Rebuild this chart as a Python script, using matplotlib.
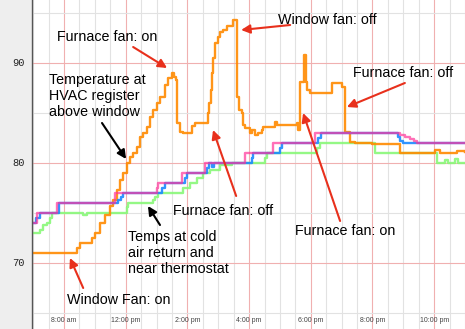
import matplotlib.pyplot as plt

# time of day in hours, temperature in F (step series)
orange_t = [8.96, 10.42, 10.52, 10.91, 11.00, 11.17, 11.33, 11.49, 11.59, 11.72, 11.82, 11.91,
            12.04, 12.14, 12.24, 12.37, 12.46, 12.56, 12.69, 12.79, 12.88, 13.01, 13.11, 13.27,
            13.37, 13.50, 13.57, 13.63, 13.66, 13.76, 13.86, 14.15, 14.25, 14.67, 14.70, 14.76,
            14.80, 14.83, 14.89, 14.99, 15.06, 15.15, 15.28, 15.48, 15.61, 15.67, 15.77, 15.80,
            15.87, 16.03, 16.09, 16.19, 16.29, 16.42, 16.45, 16.84, 16.90, 17.55, 17.58, 17.65,
            17.78, 17.84, 17.88, 17.97, 18.69, 19.01, 19.11, 19.27, 19.43, 19.98, 20.89, 22.03,
            22.19, 22.41, 22.74, 23.0]
orange_v = [71.0, 71.5, 72.0, 72.5, 73.0, 74.0, 74.8, 75.7, 76.3, 77.3, 78.3, 79.0,
            80.0, 80.6, 81.0, 81.6, 82.6, 83.0, 83.6, 84.6, 85.3, 86.0, 86.6, 87.8,
            88.5, 89.0, 88.6, 88.3, 84.0, 83.1, 83.0, 83.7, 84.0, 85.0, 86.0, 87.3,
            89.0, 90.5, 92.0, 92.6, 93.1, 93.3, 93.7, 94.3, 86.6, 85.3, 85.0, 83.8,
            83.5, 83.0, 83.3, 82.8, 83.0, 83.3, 83.6, 84.1, 83.8, 84.0, 83.3, 88.1,
            90.8, 88.1, 87.3, 87.0, 88.0, 87.6, 83.1, 82.1, 82.0, 81.9, 81.0, 81.3,
            81.0, 81.0, 81.2, 81.1]

pink_t = [8.96, 9.12, 9.77, 11.65, 13.01, 13.05, 13.82, 14.57, 15.87, 16.77, 18.14,
          20.89, 21.05, 21.22, 21.35, 21.44, 23.0]
pink_v = [74, 75, 76, 77, 77.5, 78, 79, 80, 81, 82, 83,
          82.8, 82.6, 82.4, 82.2, 82, 82]

blue_t = [8.96, 9.09, 9.22, 9.84, 11.75, 11.85, 11.91, 13.18, 13.27, 13.92, 13.99, 14.64,
          14.70, 14.80, 14.86, 16.09, 16.13, 17.00, 17.07, 18.23, 18.33, 20.83, 20.89, 20.99, 23.0]
blue_v = [74, 74.5, 75, 76, 76.3, 76.6, 77, 77.5, 78, 78.5, 79, 79.5,
          80, 79.6, 80, 80.5, 81, 81.5, 82, 82.5, 83, 82.6, 82.2, 82, 82]

green_t = [8.96, 9.22, 9.32, 9.45, 9.55, 9.61, 10.62, 10.75, 12.04, 12.07, 12.88, 12.95,
           13.05, 13.86, 14.08, 14.31, 14.51, 14.73, 15.06, 15.45, 16.52, 16.58, 18.20,
           18.30, 20.08, 22.09, 22.35, 22.45, 22.67, 22.77, 23.0]
green_v = [73.0, 73.3, 73.8, 74.0, 74.5, 75.0, 74.8, 75.0, 75.6, 76.0, 76.3, 76.6,
           77.0, 77.5, 78.0, 78.5, 79.0, 79.3, 79.8, 80.0, 80.5, 81.0, 81.5,
           82.0, 81.0, 80.0, 80.3, 80.0, 80.4, 80.0, 80.0]

tick_hours = [10, 12, 14, 16, 18, 20, 22]
tick_labels = ["8:00 am", "12:00 pm", "2:00 pm", "4:00 pm", "6:00 pm", "8:00 pm", "10:00 pm"]
y_labels = [70, 80, 90]

fig = plt.figure(figsize=(4.65, 3.29), dpi=100, facecolor="#eeeeee")
ax = fig.add_axes([32 / 465, 0, 433 / 465, 1])
ax.set_facecolor("white")
ax.set_xlim(8.96, 23.0)
ax.set_ylim(63.4, 96.3)

# grid: red every 2 h / 10 degrees, grey in between
for h in range(18, 47):
    hh = h / 2
    ax.axvline(hh, color="#f0b0b0" if hh in tick_hours else "#e2e2e2", lw=0.8, zorder=0)
for v in range(65, 100, 5):
    ax.axhline(v, color="#f0b0b0" if v % 10 == 0 else "#e2e2e2", lw=0.8, zorder=0)

ax.plot(green_t, green_v, drawstyle="steps-post", color="#88f878", lw=1.7, alpha=0.9)
ax.plot(orange_t, orange_v, drawstyle="steps-post", color="#ff8a00", lw=1.7, alpha=0.9)
ax.plot(blue_t, blue_v, drawstyle="steps-post", color="#1a88ff", lw=1.7, alpha=0.9)
ax.plot(pink_t, pink_v, drawstyle="steps-post", color="#ff3399", lw=1.7, alpha=0.7)

for s in ["top", "right", "bottom"]:
    ax.spines[s].set_visible(False)
ax.spines["left"].set_color("#555555")
ax.spines["left"].set_linewidth(1.0)
ax.set_xticks([])
ax.set_yticks([])

for h, lab in zip(tick_hours, tick_labels):
    ax.text(h, 64.2, lab, fontsize=5, color="#444444", ha="center", va="center",
            family="Liberation Sans")
for v in y_labels:
    fig.text(25 / 465, 1 - (163 - (v - 80) * 10) / 329, str(v), fontsize=7.5,
             family="Liberation Mono", ha="right", va="center", color="#222222")

red = "#e8301c"
fs = 10.3
font = "Liberation Sans"


def label(x, y, text, ha="center"):
    ax.text(x, y, text, fontsize=fs, family=font, ha=ha, va="center", linespacing=1.18)


def arrow(tail, head, color):
    ax.annotate("", xy=head, xytext=tail,
                arrowprops=dict(arrowstyle="-|>", color=color, lw=1.5, mutation_scale=13,
                                shrinkA=0, shrinkB=0))


label(11.39, 92.6, "Furnace fan: on")
arrow((12.24, 91.6), (13.34, 89.5), red)

label(9.51, 86.7, "Temperature at\nHVAC register\nabove window", ha="left")
arrow((11.23, 84.0), (12.01, 80.4), "black")

label(18.53, 94.3, "Window fan: off")
arrow((17.33, 93.8), (15.74, 93.3), red)

label(20.99, 89.0, "Furnace fan: off")
arrow((21.05, 88.0), (19.17, 85.6), red)

label(15.15, 75.2, "Furnace fan: off")
arrow((15.58, 76.7), (14.83, 83.3), red)

label(12.07, 71.0, "Temps at cold\nair return and\nnear thermostat", ha="left")
arrow((13.11, 73.8), (12.72, 75.7), "black")

label(19.11, 73.2, "Furnace fan: on")
arrow((18.95, 74.2), (17.75, 85.0), red)

label(11.78, 66.3, "Window Fan: on")
arrow((10.62, 67.5), (10.19, 70.5), red)

fig.savefig("out.png", dpi=100, facecolor=fig.get_facecolor())
